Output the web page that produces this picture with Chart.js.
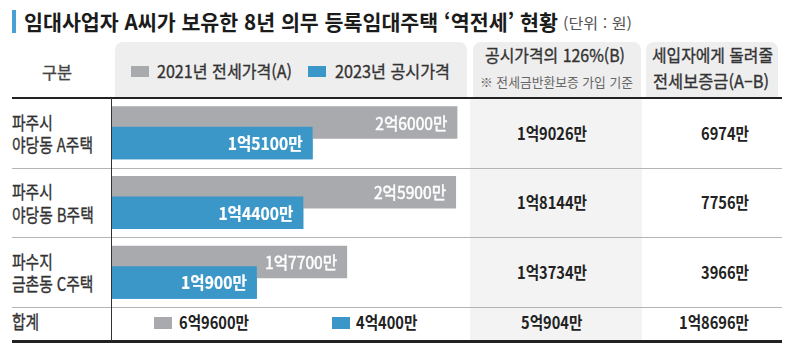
<!DOCTYPE html>
<html lang="ko">
<head>
<meta charset="utf-8">
<script src="https://cdn.jsdelivr.net/npm/chart.js@4.4.1/dist/chart.umd.min.js"></script>
<style>
  html, body { margin:0; padding:0; background:#fff; }
  #root { position:relative; width:796px; height:357px; overflow:hidden; background:#fff;
          font-family:"Noto Sans CJK KR","Noto Sans",sans-serif; }
  .t { position:absolute; white-space:nowrap; line-height:1; transform-origin:0 50%; }
  .med { -webkit-text-stroke:0.35px currentColor; }
  .box { position:absolute; }
  #chartWrap { position:absolute; left:112px; top:98px; width:360px; height:209px; z-index:5; }
</style>
</head>
<body>
<div id="root">
  <div id="chartWrap"><canvas id="c" width="360" height="209"></canvas></div>
</div>
<script>
// ---------------- data (values in 만원) ----------------
const rowLines     = [['파주시', '야당동 A주택'], ['파주시', '야당동 B주택'], ['파수지', '금촌동 C주택']];
const jeonse2021   = [26000, 25900, 17700];   // 2021년 전세가격(A)
const gongsi2023   = [15100, 14400, 10900];   // 2023년 공시가격
const gongsi126    = [19026, 18144, 13734];   // 공시가격의 126%(B)
const refundAB     = [6974, 7756, 3966];      // 세입자에게 돌려줄 전세보증금(A-B)
const totals       = [69600, 40400, 50904, 18696];
const seriesNames  = ['2021년 전세가격(A)', '2023년 공시가격'];
const titleText    = '임대사업자 A씨가 보유한 8년 의무 등록임대주택 ‘역전세’ 현황';
const unitText     = '(단위 : 원)';
const headFirst    = '구분';
const headB        = ['공시가격의 126%(B)', '※ 전세금반환보증 가입 기준'];
const headAB       = ['세입자에게 돌려줄', '전세보증금(A–B)'];
const totalLabel   = '합계';

const GRAY = '#a8aaad';
const BLUE = '#3b97c8';

function fmt(v) {
  const eok = Math.floor(v / 10000), man = v % 10000;
  return eok > 0 ? eok + '억' + man + '만' : man + '만';
}

const root = document.getElementById('root');
function box(x, y, w, h, bg, extra) {
  const d = document.createElement('div');
  d.className = 'box';
  d.style.left = x + 'px'; d.style.top = y + 'px';
  d.style.width = w + 'px'; d.style.height = h + 'px';
  d.style.background = bg;
  if (extra) Object.assign(d.style, extra);
  root.appendChild(d);
  return d;
}
function txt(str, o) {
  const el = document.createElement('div');
  el.className = 't' + (o.med ? ' med' : '');
  el.textContent = str;
  el.style.fontSize = o.size + 'px';
  el.style.fontWeight = o.weight || 400;
  el.style.color = o.color || '#333';
  el.style.zIndex = 6;
  root.appendChild(el);
  const r = el.getBoundingClientRect();
  const s = o.w ? o.w / r.width : (o.sx || 1);
  const fw = r.width * s;
  const align = o.align || 'left';
  const left = align === 'left' ? o.x : align === 'center' ? o.x - fw / 2 : o.x - fw;
  el.style.left = left + 'px';
  el.style.top = (o.y - r.height / 2 - o.size * 0.04) + 'px';
  el.style.transform = 'scaleX(' + s + ')';
  return el;
}

// ---------------- backgrounds & rules ----------------
box(12, 10, 4, 23, '#4aa0d2');                                   // title accent
box(115, 42, 352, 55, '#eeeeee', {borderRadius:'8px 8px 0 0'}); // legend header
box(473, 42, 168, 55, '#eeeeee', {borderRadius:'8px 8px 0 0'}); // B header
box(646, 42, 132, 55, '#eeeeee', {borderRadius:'8px 8px 0 0'}); // A-B header
box(470, 99, 172, 241, '#f3f3f3');                               // B column body
box(12, 167.5, 770, 1.5, '#b4b4b4', {zIndex:7});
box(12, 236.5, 770, 1.5, '#b4b4b4', {zIndex:7});
box(12, 306.5, 770, 1.5, '#b4b4b4', {zIndex:7});
box(12, 97, 770, 2.2, '#222', {zIndex:7});
box(12, 340, 770, 2.5, '#222', {zIndex:7});
box(110.8, 98, 1.5, 243, '#333', {zIndex:7});

// ---------------- header text ----------------
txt(titleText, {x:24, y:22, size:21, weight:700, color:'#1b1b1b', w:534});
txt(unitText, {x:563, y:23.5, size:15, color:'#555', w:69});
txt(headFirst, {x:57, y:72, size:17, color:'#444', align:'center', w:30, med:true});
box(131, 66, 18, 11, GRAY);
txt(seriesNames[0], {x:157, y:71.5, size:17, color:'#333', w:135, med:true});
box(308, 66, 18, 11, BLUE);
txt(seriesNames[1], {x:335, y:71.5, size:17, color:'#333', w:115, med:true});
txt(headB[0], {x:555, y:55, size:17, color:'#333', align:'center', w:140, med:true});
txt(headB[1], {x:556, y:82, size:13, color:'#666', align:'center', w:153});
txt(headAB[0], {x:712, y:55, size:17, color:'#333', align:'center', w:121, med:true});
txt(headAB[1], {x:711, y:81, size:17, color:'#333', align:'center', w:116, med:true});

// ---------------- chart ----------------
const labelPlugin = {
  id: 'barLabels',
  afterDatasetsDraw(chart) {
    const ctx = chart.ctx;
    // put the 2023 bars on top of the 2021 bars
    chart.getDatasetMeta(1).controller.draw();
    chart.data.datasets.forEach((ds, di) => {
      const meta = chart.getDatasetMeta(di);
      meta.data.forEach((bar, i) => {
        ctx.save();
        ctx.translate(bar.x - 10, bar.y + 0.5);
        ctx.scale(0.92, 1);
        ctx.font = (di === 1 ? '700 ' : '400 ') + '17px "Noto Sans CJK KR"';
        ctx.fillStyle = '#ffffff';
        ctx.strokeStyle = '#ffffff';
        ctx.lineWidth = di === 1 ? 0.2 : 0.5;
        ctx.textAlign = 'right';
        ctx.textBaseline = 'middle';
        ctx.fillText(fmt(ds.data[i]), 0, 0);
        ctx.strokeText(fmt(ds.data[i]), 0, 0);
        ctx.restore();
      });
    });
  }
};

const chart = new Chart(document.getElementById('c'), {
  type: 'bar',
  data: {
    labels: rowLines.map(l => l.join(' ')),
    datasets: [
      { label: seriesNames[0], data: jeonse2021, backgroundColor: GRAY, borderWidth: 0 },
      { label: seriesNames[1], data: gongsi2023, backgroundColor: BLUE, borderWidth: 0 }
    ]
  },
  options: {
    indexAxis: 'y',
    responsive: false,
    animation: false,
    devicePixelRatio: 1,
    categoryPercentage: 0.59,
    barPercentage: 1.58,
    layout: { padding: 0 },
    scales: {
      x: { type: 'linear', min: 0, max: 27100, display: false },
      y: { type: 'category', display: false, offset: true }
    },
    plugins: { legend: { display: false }, tooltip: { enabled: false } }
  },
  plugins: [labelPlugin]
});

// ---------------- table body text ----------------
const top0 = 98;
rowLines.forEach((lines, i) => {
  const cy = top0 + chart.scales.y.getPixelForValue(i);
  txt(lines[0], {x:12, y:cy - 10.5, size:18, color:'#333', sx:0.82, med:true});
  txt(lines[1], {x:12, y:cy + 12, size:18, color:'#333', sx:0.82, med:true});
  txt(fmt(gongsi126[i]), {x:552, y:cy, size:17, weight:700, color:'#222', align:'center', sx:0.86});
  txt(fmt(refundAB[i]), {x:749, y:cy, size:17, weight:700, color:'#222', align:'right', sx:0.86});
});
const ty = 322;
txt(totalLabel, {x:12, y:ty, size:18, color:'#333', sx:0.82, med:true});
box(154, 317, 18, 12, GRAY);
txt(fmt(totals[0]), {x:179, y:ty, size:17, weight:700, color:'#222', sx:0.86});
box(332, 317, 18, 12, BLUE);
txt(fmt(totals[1]), {x:356, y:ty, size:17, weight:700, color:'#222', sx:0.86});
txt(fmt(totals[2]), {x:552, y:ty, size:17, weight:700, color:'#222', align:'center', sx:0.86});
txt(fmt(totals[3]), {x:749, y:ty, size:17, weight:700, color:'#222', align:'right', sx:0.86});
</script>
</body>
</html>
